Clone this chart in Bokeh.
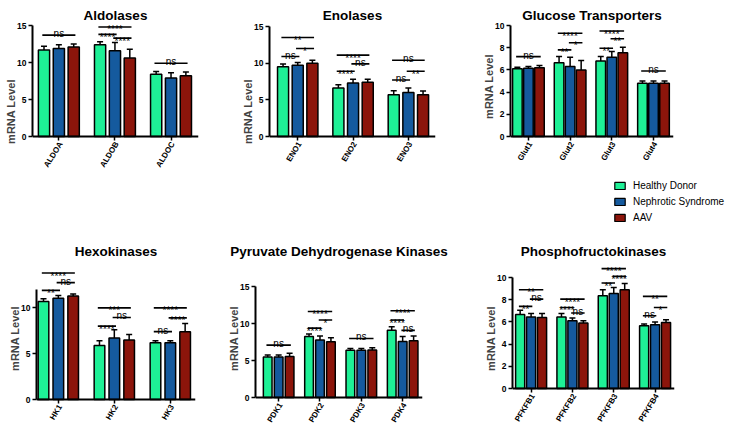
import numpy as np
from bokeh.plotting import figure
from bokeh.models import (Range1d, FixedTicker, ColumnDataSource, Whisker, TeeHead,
                          Label, Legend, LegendItem, Title)
from bokeh.layouts import column, row
from bokeh.embed import file_html
from bokeh.resources import INLINE
from bokeh.core.properties import value

SERIES = ["Healthy Donor", "Nephrotic Syndrome", "AAV"]
COLORS = ["#1EF096", "#155A9E", "#8C150B"]
FONT = "Liberation Sans"

# ---------------- data ----------------
# Aldolases
ald_cats = ["ALDOA", "ALDOB", "ALDOC"]
ald_hd = [11.7, 12.4, 8.4]
ald_hd_err = [0.5, 0.4, 0.4]
ald_ns = [11.9, 11.6, 7.9]
ald_ns_err = [0.5, 1.1, 0.7]
ald_aav = [12.1, 10.6, 8.2]
ald_aav_err = [0.4, 1.2, 0.5]
ald_sig = [(0, 0, 2, 13.7, "ns"), (1, 0, 2, 14.8, "****"), (1, 0, 1, 13.8, "****"),
           (1, 1, 2, 13.3, "****"), (2, 0, 2, 9.9, "ns")]

# Enolases
eno_cats = ["ENO1", "ENO2", "ENO3"]
eno_hd = [9.5, 6.6, 5.7]
eno_hd_err = [0.4, 0.45, 0.55]
eno_ns = [9.7, 7.3, 6.0]
eno_ns_err = [0.4, 0.5, 0.6]
eno_aav = [10.0, 7.4, 5.7]
eno_aav_err = [0.4, 0.4, 0.5]
eno_sig = [(0, 0, 2, 13.5, "**"), (0, 0, 1, 10.9, "ns"), (0, 1, 2, 12.0, "*"),
           (1, 0, 2, 11.1, "****"), (1, 1, 2, 9.9, "ns"), (1, 0, 1, 8.9, "****"),
           (2, 0, 2, 10.4, "ns"), (2, 1, 2, 8.9, "**"), (2, 0, 1, 7.7, "ns")]

# Glucose transporters
glut_cats = ["Glut1", "Glut2", "Glut3", "Glut4"]
glut_hd = [6.1, 6.65, 6.8, 4.8]
glut_hd_err = [0.15, 0.55, 0.4, 0.2]
glut_ns = [6.15, 6.3, 7.15, 4.8]
glut_ns_err = [0.15, 0.85, 0.5, 0.2]
glut_aav = [6.2, 6.0, 7.55, 4.8]
glut_aav_err = [0.2, 0.85, 0.5, 0.2]
glut_sig = [(0, 0, 2, 7.2, "ns"), (1, 0, 2, 9.3, "****"), (1, 1, 2, 8.45, "*"),
            (1, 0, 1, 7.8, "**"), (2, 0, 2, 9.5, "****"), (2, 1, 2, 8.8, "**"),
            (2, 0, 1, 7.95, "**"), (3, 0, 2, 5.9, "ns")]

# Hexokinases
hk_cats = ["HK1", "HK2", "HK3"]
hk_hd = [10.7, 5.9, 6.2]
hk_hd_err = [0.3, 0.5, 0.2]
hk_ns = [11.05, 6.7, 6.2]
hk_ns_err = [0.3, 0.9, 0.2]
hk_aav = [11.3, 6.5, 7.4]
hk_aav_err = [0.2, 0.6, 0.9]
hk_sig = [(0, 0, 2, 13.8, "****"), (0, 1, 2, 12.75, "ns"), (0, 0, 1, 11.9, "**"),
          (1, 0, 2, 10.0, "***"), (1, 1, 2, 8.95, "ns"), (1, 0, 1, 8.0, "****"),
          (2, 0, 2, 10.0, "****"), (2, 1, 2, 8.9, "****"), (2, 0, 1, 7.4, "ns")]

# Pyruvate dehydrogenase kinases
pdk_cats = ["PDK1", "PDK2", "PDK3", "PDK4"]
pdk_hd = [5.5, 8.25, 6.4, 9.1]
pdk_hd_err = [0.25, 0.35, 0.25, 0.5]
pdk_ns = [5.5, 7.8, 6.4, 7.6]
pdk_ns_err = [0.25, 0.55, 0.25, 0.65]
pdk_aav = [5.55, 7.55, 6.45, 7.7]
pdk_aav_err = [0.45, 0.55, 0.3, 0.65]
pdk_sig = [(0, 0, 2, 7.1, "ns"), (1, 0, 2, 11.65, "****"), (1, 1, 2, 10.5, "*"),
           (1, 0, 1, 9.4, "****"), (2, 0, 2, 8.0, "ns"), (3, 0, 2, 11.75, "****"),
           (3, 0, 1, 10.5, "****"), (3, 1, 2, 9.1, "ns")]

# Phosphofructokinases
pfk_cats = ["PFKFB1", "PFKFB2", "PFKFB3", "PFKFB4"]
pfk_hd = [6.67, 6.45, 8.35, 5.65]
pfk_hd_err = [0.38, 0.3, 0.55, 0.15]
pfk_ns = [6.45, 6.1, 8.55, 5.75]
pfk_ns_err = [0.3, 0.25, 0.55, 0.25]
pfk_aav = [6.4, 5.9, 8.9, 5.95]
pfk_aav_err = [0.35, 0.2, 0.55, 0.25]
pfk_sig = [(0, 0, 2, 8.9, "**"), (0, 1, 2, 8.05, "ns"), (0, 0, 1, 7.4, "**"),
           (1, 0, 2, 8.05, "****"), (1, 0, 1, 7.3, "****"), (1, 1, 2, 6.8, "ns"),
           (2, 0, 2, 10.8, "****"), (2, 1, 2, 10.1, "****"), (2, 0, 1, 9.5, "**"),
           (3, 0, 2, 8.3, "**"), (3, 1, 2, 7.3, "*"), (3, 0, 1, 6.55, "ns")]

OFFS = [-0.265, 0.0, 0.265]
LABEL_ANGLE = 45  # slant of the category names (value that renders slanted here)


def make_panel(title, cats, means, errs, sig, g):
    n = len(cats)
    scale = g["axis_px"] / g["axis_top"]          # pixels per mRNA unit
    fh = g["H"] - g["bt"] - g["bb"]
    above = g["zero"] - g["bt"]                    # px from frame top to the zero line
    below = fh - above                             # px from zero line to frame bottom
    p = figure(output_backend="svg", toolbar_location=None,
               width=g["W"], height=g["H"], frame_align=False,
               x_range=Range1d(g["xlo"], g["xhi"]),
               y_range=Range1d(-below / scale, above / scale),
               min_border_left=g["bl"], min_border_right=g["br"],
               min_border_top=g["bt"], min_border_bottom=g["bb"])
    p.outline_line_color = None
    p.grid.visible = False

    for k in range(3):
        xs = [i + OFFS[k] for i in range(n)]
        src = ColumnDataSource(dict(x=xs, y=means[k],
                                    yu=[m + e for m, e in zip(means[k], errs[k])]))
        p.vbar(x="x", top="y", bottom=0, width=g["bw"], source=src,
               fill_color=COLORS[k], line_color="black", line_width=1.5)
        p.add_layout(Whisker(source=src, base="x", lower="y", upper="yu",
                             dimension="height", line_width=1.5, line_color="black",
                             lower_head=None,
                             upper_head=TeeHead(size=6, line_width=1.5, line_color="black")))

    # significance brackets
    x0 = [gi + OFFS[a] - 0.03 for gi, a, b, y, t in sig]
    x1 = [gi + OFFS[b] + 0.03 for gi, a, b, y, t in sig]
    ys = [y for gi, a, b, y, t in sig]
    txt = [t for gi, a, b, y, t in sig]
    xc = [(u + v) / 2 for u, v in zip(x0, x1)]
    dy = [-1.5 if t == "ns" else 3.0 for t in txt]
    bsrc = ColumnDataSource(dict(x0=x0, x1=x1, y=ys, xc=xc, t=txt, dy=dy))
    p.segment(x0="x0", y0="y", x1="x1", y1="y", source=bsrc, line_color="black", line_width=1.6)
    p.text(x="xc", y="y", text="t", y_offset="dy", source=bsrc, text_align="center",
           text_baseline="alphabetic", text_font=value(FONT), text_font_size="10px",
           text_color="black")

    # y axis
    p.yaxis.bounds = (0, g["axis_top"])
    p.yaxis.ticker = FixedTicker(ticks=g["yticks"])
    p.yaxis.axis_label = "mRNA Level"
    p.yaxis.axis_label_text_font = FONT
    p.yaxis.axis_label_text_font_size = "11px"
    p.yaxis.axis_label_text_font_style = "bold"
    p.yaxis.axis_label_standoff = -3
    p.yaxis.major_label_text_font = FONT
    p.yaxis.major_label_text_font_size = "8.5px"
    p.yaxis.major_label_text_font_style = "bold"
    p.yaxis.major_label_text_color = "black"
    p.yaxis.major_label_standoff = 2
    p.yaxis.major_tick_out = 4

    # x axis drawn at mRNA = 0; category names drawn as slanted labels below it
    p.xaxis.fixed_location = 0
    p.xaxis.ticker = FixedTicker(ticks=list(range(n)))
    p.xaxis.major_label_text_font_size = "0px"
    p.xaxis.major_label_text_color = None
    p.xaxis.major_label_text_alpha = 0
    p.xaxis.major_label_standoff = 0
    p.xaxis.major_tick_out = 4
    for ax in (p.xaxis, p.yaxis):
        ax.axis_line_width = 2
        ax.axis_line_color = "black"
        ax.major_tick_line_width = 1.5
        ax.major_tick_line_color = "black"
        ax.major_tick_in = 0
        ax.minor_tick_line_color = None
    lsrc = ColumnDataSource(dict(x=list(range(n)), y=[0] * n, t=cats))
    p.text(x="x", y="y", text="t", source=lsrc, angle=LABEL_ANGLE,
           text_align="right", text_baseline="middle", x_offset=2, y_offset=6,
           text_font=value(FONT), text_font_size="8px", text_font_style="bold",
           text_color="black")

    if g["bt"] == 0:
        p.add_layout(Label(x=(g["W"] - g["bl"] - g["br"]) / 2, y=fh - g["tb"],
                           x_units="screen", y_units="screen",
                           text=title, text_align="center", text_baseline="alphabetic",
                           text_font=FONT, text_font_size="13.5px", text_font_style="bold",
                           text_color="black"))
    else:
        p.add_layout(Title(text=title, align="center", vertical_align="bottom", standoff=-14,
                           text_font=FONT, text_font_size="13.5px", text_font_style="bold",
                           text_color="black"), "above")
    return p


# layout geometry (pixels)
G1 = dict(W=239, H=226, bl=32, br=41, bt=0, bb=4, zero=136, axis_top=15, axis_px=111,
          xlo=-0.47, xhi=2.49, yticks=[0, 5, 10, 15], bw=0.2, tb=15)
G2 = dict(W=241, H=226, bl=30, br=45, bt=0, bb=4, zero=136, axis_top=15, axis_px=110,
          xlo=-0.51, xhi=2.49, yticks=[0, 5, 10, 15], bw=0.2, tb=15)
G3 = dict(W=253, H=176, bl=30, br=60, bt=0, bb=4, zero=136, axis_top=10, axis_px=111,
          xlo=-0.43, xhi=3.48, yticks=[0, 2, 4, 6, 8, 10], bw=0.23, tb=15)
G4 = dict(W=217, H=203, bl=36, br=22, bt=25, bb=4, zero=399 - 226, axis_top=12, axis_px=110,
          xlo=-0.39, xhi=2.45, yticks=[0, 5, 10], bw=0.19)
G5 = dict(W=265, H=203, bl=38, br=60, bt=25, bb=4, zero=397 - 226, axis_top=15, axis_px=110.7,
          xlo=-0.56, xhi=3.48, yticks=[0, 5, 10, 15], bw=0.21)
G6 = dict(W=251, H=203, bl=30, br=59, bt=25, bb=4, zero=388 - 226, axis_top=10, axis_px=111,
          xlo=-0.45, xhi=3.47, yticks=[0, 2, 4, 6, 8, 10], bw=0.22)

p1 = make_panel("Aldolases", ald_cats, [ald_hd, ald_ns, ald_aav],
                [ald_hd_err, ald_ns_err, ald_aav_err], ald_sig, G1)
p2 = make_panel("Enolases", eno_cats, [eno_hd, eno_ns, eno_aav],
                [eno_hd_err, eno_ns_err, eno_aav_err], eno_sig, G2)
p3 = make_panel("Glucose Transporters", glut_cats, [glut_hd, glut_ns, glut_aav],
                [glut_hd_err, glut_ns_err, glut_aav_err], glut_sig, G3)
p4 = make_panel("Hexokinases", hk_cats, [hk_hd, hk_ns, hk_aav],
                [hk_hd_err, hk_ns_err, hk_aav_err], hk_sig, G4)
p5 = make_panel("Pyruvate Dehydrogenase Kinases", pdk_cats, [pdk_hd, pdk_ns, pdk_aav],
                [pdk_hd_err, pdk_ns_err, pdk_aav_err], pdk_sig, G5)
p6 = make_panel("Phosphofructokinases", pfk_cats, [pfk_hd, pfk_ns, pfk_aav],
                [pfk_hd_err, pfk_ns_err, pfk_aav_err], pfk_sig, G6)

# legend panel (sits under Glucose Transporters)
pl = figure(output_backend="svg", toolbar_location=None, width=253, height=50,
            frame_align=False, x_range=Range1d(0, 1), y_range=Range1d(0, 1),
            x_axis_location=None, y_axis_location=None,
            min_border_left=0, min_border_right=0, min_border_top=0, min_border_bottom=0)
pl.outline_line_color = None
pl.grid.visible = False
leg_src = ColumnDataSource(dict(x=[0.5], top=[0.5]))
leg_r = []
for c in COLORS:
    r = pl.vbar(x="x", top="top", width=0.1, source=leg_src, fill_color=c,
                line_color="black", line_width=1.2)
    r.visible = False
    leg_r.append(r)
lg = Legend(items=[LegendItem(label=s, renderers=[r]) for s, r in zip(SERIES, leg_r)],
            location=(133, 2), orientation="vertical")
lg.border_line_color = None
lg.background_fill_alpha = 0
lg.inactive_fill_alpha = 0
lg.padding = 0
lg.margin = 0
lg.glyph_width = 13
lg.glyph_height = 9
lg.label_height = 13
lg.spacing = 3
lg.label_standoff = 7
lg.label_text_font = FONT
lg.label_text_font_size = "10px"
lg.label_text_color = "black"
pl.add_layout(lg)

layout = column(row(p1, p2, column(p3, pl, spacing=0), spacing=0),
                row(p4, p5, p6, spacing=0), spacing=0)

with open("out.html", "w") as f:
    f.write(file_html(layout, INLINE))
